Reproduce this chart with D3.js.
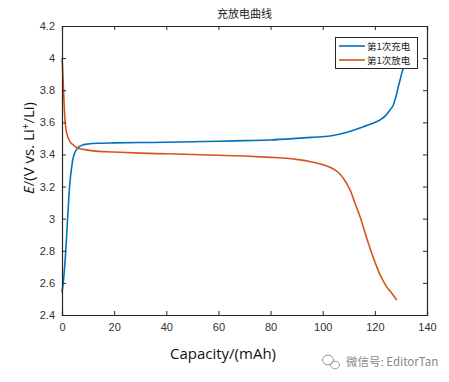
<!DOCTYPE html>
<html><head><meta charset="utf-8">
<script src="https://cdn.jsdelivr.net/npm/d3@7"></script>
<style>body{margin:0;background:#fff}svg{display:block}</style>
</head><body>
<svg id="c" width="449" height="382"></svg>
<script>
const title = "充放电曲线";
const seriesNames = ["第1次充电", "第1次放电"];
const xTicks = [0,20,40,60,80,100,120,140];
const yTicks = [2.4,2.6,2.8,3,3.2,3.4,3.6,3.8,4,4.2];
const chargeCap = [0.0,0.6,1.2,1.8,2.4,3.0,3.7,4.3,5.0,6.0,7.0,8.2,10,14.6,20,30,40,50,60,70,80,90,96,102.8,109,115.6,119,122,124,125.8,127,127.7,128.4,129.0,129.7,130.3,131,131.6,132.2];
const chargeV   = [2.54,2.62,2.74,2.90,3.07,3.22,3.32,3.38,3.415,3.44,3.452,3.46,3.465,3.47,3.472,3.474,3.476,3.479,3.482,3.486,3.49,3.50,3.507,3.515,3.537,3.573,3.593,3.615,3.64,3.677,3.705,3.739,3.78,3.822,3.865,3.905,3.94,3.968,4.0];
const dischargeCap = [0.0,0.2,0.5,0.8,1.15,1.6,2.2,3.07,4.3,6,8.8,12,20,30,40,50,60,70,80,86,91.3,95,99,102,104.7,106.5,107.9,109.2,110.5,112.4,114.3,116.9,118.8,120.5,122,123.3,124.5,126.5,128.4];
const dischargeV   = [4.0,3.95,3.83,3.72,3.615,3.55,3.51,3.48,3.459,3.44,3.43,3.422,3.415,3.408,3.404,3.40,3.395,3.39,3.382,3.376,3.366,3.356,3.341,3.325,3.303,3.28,3.252,3.218,3.179,3.096,3.013,2.878,2.785,2.71,2.65,2.61,2.577,2.535,2.494];

const svg = d3.select("#c");
const L=62, R=427, T=26, B=315;
const x = d3.scaleLinear().domain([0,140]).range([L,R]);
const y = d3.scaleLinear().domain([2.4,4.2]).range([B,T]);
const axisCol = "#262626";
const tickFont = "Liberation Sans, Arial, sans-serif";

svg.append("rect").attr("x",L).attr("y",T).attr("width",R-L).attr("height",B-T).attr("fill","#fff");

const line = d3.line().x(d=>x(d[0])).y(d=>y(d[1])).curve(d3.curveMonotoneX);
const g = svg.append("g");
g.append("path").datum(chargeCap.map((c,i)=>[c,chargeV[i]]))
  .attr("d",line).attr("fill","none").attr("stroke","#0072BD").attr("stroke-width",1.6);
g.append("path").datum(dischargeCap.map((c,i)=>[c,dischargeV[i]]))
  .attr("d",line).attr("fill","none").attr("stroke","#D95319").attr("stroke-width",1.6);

// axes
const tk = 4;
const xb = svg.append("g").attr("transform",`translate(0,${B})`)
  .call(d3.axisBottom(x).tickValues(xTicks).tickSize(-tk).tickPadding(8).tickFormat(d3.format("d")));
const xt = svg.append("g").attr("transform",`translate(0,${T})`)
  .call(d3.axisTop(x).tickValues(xTicks).tickSize(-tk).tickFormat(""));
const yl = svg.append("g").attr("transform",`translate(${L},0)`)
  .call(d3.axisLeft(y).tickValues(yTicks).tickSize(-tk).tickPadding(7).tickFormat(d=>String(+d.toFixed(1))));
const yr = svg.append("g").attr("transform",`translate(${R},0)`)
  .call(d3.axisRight(y).tickValues(yTicks).tickSize(-tk).tickFormat(""));
[xb,xt,yl,yr].forEach(a=>{
  a.select(".domain").attr("stroke",axisCol).attr("stroke-width",1.2);
  a.selectAll(".tick line").attr("stroke",axisCol);
  a.selectAll("text").attr("fill","#333").style("font-family",tickFont).style("font-size","11px");
});

// title
svg.append("text").attr("x",(L+R)/2).attr("y",18).attr("text-anchor","middle")
  .style("font-family","Noto Sans CJK SC, sans-serif").style("font-size","11px").attr("fill","#222").text(title);

// x label
svg.append("text").attr("x",223).attr("y",359).attr("text-anchor","middle")
  .style("font-family","Open Sans, sans-serif").style("font-size","15px").attr("fill","#111").text("Capacity/(mAh)");

// y label
const yt = svg.append("text").attr("transform","translate(34,148) rotate(-90)").attr("text-anchor","middle")
  .style("font-family","Open Sans, sans-serif").style("font-size","15px").attr("fill","#111");
yt.append("tspan").style("font-style","italic").text("E");
yt.append("tspan").text("/(V vs. Li");
yt.append("tspan").attr("dy",-5).style("font-size","10px").text("+");
yt.append("tspan").attr("dy",5).text("/Li)");

// legend
const lg = svg.append("g");
lg.append("rect").attr("x",335.5).attr("y",37.5).attr("width",82).attr("height",31)
  .attr("fill","#fff").attr("stroke",axisCol).attr("stroke-width",1);
const cols = ["#0072BD","#D95319"];
seriesNames.forEach((n,i)=>{
  const yy = 46 + i*14;
  lg.append("line").attr("x1",339).attr("x2",365).attr("y1",yy).attr("y2",yy).attr("stroke",cols[i]).attr("stroke-width",1.6);
  lg.append("text").attr("x",367).attr("y",yy+3.5).style("font-family","Noto Sans CJK SC, sans-serif")
    .style("font-size","9.5px").attr("fill","#222").text(n);
});

// watermark
const wm = svg.append("g").attr("fill","none").attr("stroke","#999").attr("stroke-width",1);
wm.append("ellipse").attr("cx",328).attr("cy",360).attr("rx",5.5).attr("ry",4.8);
wm.append("ellipse").attr("cx",335).attr("cy",365).attr("rx",4.5).attr("ry",3.8);
svg.append("text").attr("x",346).attr("y",366).style("font-family","Noto Sans CJK SC, sans-serif")
  .style("font-size","11.5px").attr("fill","#888").text("微信号: EditorTan");
</script>
</body></html>
